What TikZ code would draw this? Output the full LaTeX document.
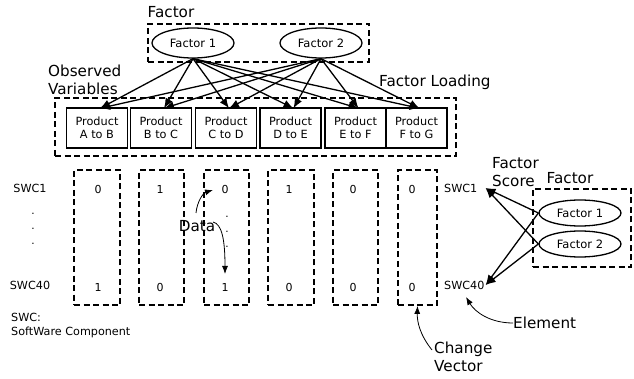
\documentclass[tikz,border=0pt]{standalone}
\usepackage{fontspec}
\setmainfont{DejaVu Sans}
\usetikzlibrary{arrows.meta,shapes.geometric}
\begin{document}
\begin{tikzpicture}[x=1pt,y=-1pt,
  dashbox/.style={draw,line width=1.8pt,dash pattern=on 6pt off 3.5pt,inner sep=0pt},
  prodbox/.style={draw,line width=1.4pt,minimum width=61pt,minimum height=40pt,align=center,font=\fontsize{11.3}{13.5}\selectfont,inner sep=0pt},
  factorell/.style={draw,ellipse,line width=1.3pt,minimum width=82pt,minimum height=30pt,inner sep=0pt,font=\fontsize{11.5}{13}\selectfont},
  biglabel/.style={font=\fontsize{15.2}{18.5}\selectfont,inner sep=0pt,align=left},
  smalllabel/.style={font=\fontsize{11.2}{13.5}\selectfont,inner sep=0pt},
  val/.style={font=\fontsize{11}{12}\selectfont,inner sep=0pt},
  dotl/.style={font=\fontsize{10.5}{12}\selectfont,inner sep=0pt},
  arr/.style={-{Latex[length=10pt,width=8pt]},line width=1.3pt},
  thinarr/.style={-{Latex[length=8pt,width=6pt]},line width=0.8pt},
]
\useasboundingbox (0,0) rectangle (634,379);

% ---------- factors and observed variables ----------
\node[biglabel] (facttitle) at (171,12) {Factor};
\node[dashbox,minimum width=221pt,minimum height=38pt] (topgrp) at (258.5,43) {};
\node[factorell] (fa) at (193,43) {Factor 1};
\node[factorell] (fb) at (321,43) {Factor 2};

\node[biglabel,anchor=west] (obs) at (48,80) {Observed\\Variables};
\node[biglabel,anchor=west] (load) at (379,82) {Factor Loading};

\node[dashbox,minimum width=401pt,minimum height=58pt] (prodgrp) at (255.5,127) {};
\node[prodbox] (pab) at (97,128) {Product\\A to B};
\node[prodbox] (pbc) at (161,128) {Product\\B to C};
\node[prodbox] (pcd) at (226,128) {Product\\C to D};
\node[prodbox] (pde) at (290.5,128) {Product\\D to E};
\node[prodbox] (pef) at (355.5,128) {Product\\E to F};
\node[prodbox] (pfg) at (416.5,128) {Product\\F to G};

\foreach \p in {pab,pbc,pcd,pde,pef,pfg}{
  \draw[arr] (fa.south) -- ([xshift=3pt,yshift=-1pt]\p.north);
  \draw[arr] (fb.south) -- ([xshift=3pt,yshift=-1pt]\p.north);
}

% ---------- data matrix ----------
\node[smalllabel] (swc1) at (30,188) {SWC1};
\node[smalllabel] (swc40) at (30,285) {SWC40};
\node[dotl] (ld1) at (33,214) {.};
\node[dotl] (ld2) at (33,229) {.};
\node[dotl] (ld3) at (33,244) {.};

\node[dashbox,minimum width=46pt,minimum height=135pt] (c1) at (97,237.5) {};
\node[dashbox,minimum width=45pt,minimum height=135pt] (c2) at (161.5,237.5) {};
\node[dashbox,minimum width=45pt,minimum height=135pt] (c3) at (226.5,237.5) {};
\node[dashbox,minimum width=46pt,minimum height=135pt] (c4) at (291,237.5) {};
\node[dashbox,minimum width=45pt,minimum height=135pt] (c5) at (355.5,237.5) {};
\node[dashbox,minimum width=39pt,minimum height=135pt] (c6) at (417.5,237.5) {};

\node[val] (v1a) at (98,189) {0};  \node[val] (v1b) at (98,287) {1};
\node[val] (v2a) at (160,189) {1}; \node[val] (v2b) at (160,287) {0};
\node[val] (v3a) at (225,189) {0}; \node[val] (v3b) at (225,287) {1};
\node[val] (v4a) at (289,189) {1}; \node[val] (v4b) at (289,287) {0};
\node[val] (v5a) at (353,189) {0}; \node[val] (v5b) at (353,287) {0};
\node[val] (v6a) at (412,189) {0}; \node[val] (v6b) at (412,287) {0};

\node[dotl] (cd1) at (227,217) {.};
\node[dotl] (cd2) at (227,232) {.};
\node[dotl] (cd3) at (227,247) {.};

\node[biglabel] (data) at (197,226) {Data};
\coordinate (dtip1) at (213,190);
\coordinate (dtip2) at (225,274);
\draw[thinarr] (196,213) .. controls (197,202) and (203,193) .. (dtip1);
\draw[thinarr] (213,222) .. controls (222,224) and (225,240) .. (dtip2);

\node[smalllabel,anchor=north west] (swcnote) at (11,313) {SWC:};
\node[smalllabel,anchor=north west] (swcfull) at (11,327) {SoftWare Component};

% ---------- factor scores ----------
\node[smalllabel,anchor=west] (rswc1) at (444,188) {SWC1};
\node[smalllabel,anchor=west] (rswc40) at (444,285) {SWC40};
\node[biglabel,anchor=west] (score) at (492,172) {Factor\\Score};
\node[biglabel] (fact2title) at (570,178) {Factor};

\node[dashbox,minimum width=98pt,minimum height=78pt] (rgrp) at (582,228) {};
\node[factorell,minimum height=26pt] (rfa) at (580,213) {Factor 1};
\node[factorell,minimum height=26pt] (rfb) at (580,244) {Factor 2};

\draw[arr] (rfa.west) -- ([xshift=8pt]rswc1.east);
\draw[arr] (rfa.west) -- ([xshift=1pt]rswc40.east);
\draw[arr] (rfb.west) -- ([xshift=8pt]rswc1.east);
\draw[arr] (rfb.west) -- ([xshift=1pt]rswc40.east);

\node[biglabel,anchor=west] (elem) at (513,323) {Element};
\coordinate (etip) at (466,297);
\draw[thinarr] (elem.west) .. controls (490,323) and (475,312) .. (etip);

\node[biglabel,anchor=west] (chg) at (434,357) {Change\\Vector};
\draw[thinarr] (432,350) .. controls (420,335) and (417,322) .. (c6.south);
\end{tikzpicture}
\end{document}
